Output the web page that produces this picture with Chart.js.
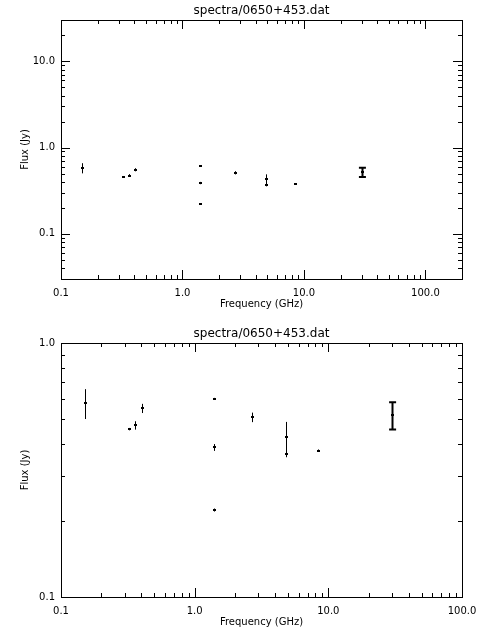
<!DOCTYPE html>
<html><head><meta charset="utf-8">
<script src="https://cdn.jsdelivr.net/npm/chart.js@4"></script>
<style>body{margin:0;background:#fff}canvas{display:block}</style>
</head><body>
<div style="width:480px;height:320px"><canvas id="c1"></canvas></div>
<div style="width:480px;height:320px"><canvas id="c2"></canvas></div>
<script>
const titleText = "spectra/0650+453.dat";
const xTitle = "Frequency (GHz)";
const yTitle = "Flux (Jy)";
const freq = [0.15, 0.323, 0.36, 0.404, 1.4, 1.4, 1.4, 2.7, 4.85, 4.85, 8.4, 30];
const flux = [0.58, 0.458, 0.474, 0.553, 0.603, 0.388, 0.22, 0.51, 0.427, 0.365, 0.377, 0.52];
const fluxErr = [0.078, 0.005, 0.018, 0.023, 0.005, 0.012, 0.003, 0.022, 0.062, 0.01, 0.004, 0.064];
const xMajor = [0.1, 1, 10, 100];
const xLabels = ["0.1", "1.0", "10.0", "100.0"];
const yMajor = [0.1, 1, 10];
const yLabels = ["0.1", "1.0", "10.0"];

function minorsBetween(lo, hi){const out=[];for(let d=Math.floor(Math.log10(lo));d<=Math.ceil(Math.log10(hi));d++){for(let k=2;k<=9;k++){const v=k*Math.pow(10,d);if(v>lo&&v<hi)out.push(v);}}return out;}

const idlPlugin = {
  id:'idl',
  afterDatasetsDraw(chart, args, o){
    const ctx=chart.ctx, a=chart.chartArea, xs=chart.scales.x, ys=chart.scales.y;
    ctx.save();
    // error bars
    chart.data.datasets[0].data.forEach((p,i)=>{
      const x=xs.getPixelForValue(p.x);
      const y1=ys.getPixelForValue(p.y-p.e), y2=ys.getPixelForValue(p.y+p.e);
      const thick = p.x>20;
      ctx.strokeStyle='#000'; ctx.lineWidth=thick?2:1;
      ctx.beginPath(); ctx.moveTo(Math.round(x)+0.5,y1); ctx.lineTo(Math.round(x)+0.5,y2); ctx.stroke();
      if(thick){ctx.beginPath();ctx.moveTo(x-3,y1);ctx.lineTo(x+4,y1);ctx.moveTo(x-3,y2);ctx.lineTo(x+4,y2);ctx.stroke();}
      ctx.fillStyle='#000'; ctx.fillRect(Math.round(x)-1, Math.round(ys.getPixelForValue(p.y))-1, 3, 2);
    });
    // frame
    ctx.lineWidth=1; ctx.strokeStyle='#000';
    ctx.strokeRect(a.left+0.5,a.top+0.5,a.right-a.left,a.bottom-a.top);
    ctx.beginPath();
    const xmin=xs.min,xmax=xs.max,ymin=ys.min,ymax=ys.max;
    const ML=o.major, mL=o.minor;
    xMajor.forEach(v=>{if(v<xmin||v>xmax)return;const x=Math.round(xs.getPixelForValue(v))+0.5;ctx.moveTo(x,a.bottom);ctx.lineTo(x,a.bottom-ML);ctx.moveTo(x,a.top);ctx.lineTo(x,a.top+ML);});
    minorsBetween(xmin,xmax).forEach(v=>{const x=Math.round(xs.getPixelForValue(v))+0.5;ctx.moveTo(x,a.bottom);ctx.lineTo(x,a.bottom-mL);ctx.moveTo(x,a.top);ctx.lineTo(x,a.top+mL);});
    yMajor.forEach(v=>{if(v<ymin||v>ymax)return;const y=Math.round(ys.getPixelForValue(v))+0.5;ctx.moveTo(a.left,y);ctx.lineTo(a.left+ML,y);ctx.moveTo(a.right,y);ctx.lineTo(a.right-ML,y);});
    minorsBetween(ymin,ymax).forEach(v=>{const y=Math.round(ys.getPixelForValue(v))+0.5;ctx.moveTo(a.left,y);ctx.lineTo(a.left+mL,y);ctx.moveTo(a.right,y);ctx.lineTo(a.right-mL,y);});
    ctx.stroke();
    // labels
    ctx.fillStyle='#000'; ctx.font='10px "DejaVu Sans"';
    ctx.textAlign='center'; ctx.textBaseline='top';
    xMajor.forEach((v,i)=>{if(v<xmin||v>xmax)return;ctx.fillText(xLabels[i],xs.getPixelForValue(v),a.bottom+9);});
    ctx.fillText(xTitle,(a.left+a.right)/2,a.bottom+20);
    ctx.textAlign='right'; ctx.textBaseline='middle';
    yMajor.forEach((v,i)=>{if(v<ymin||v>ymax)return;ctx.fillText(yLabels[i],a.left-6,ys.getPixelForValue(v));});
    ctx.save(); ctx.translate(a.left-36,(a.top+a.bottom)/2); ctx.rotate(-Math.PI/2);
    ctx.textAlign='center'; ctx.fillText(yTitle,0,0); ctx.restore();
    ctx.font='12px "DejaVu Sans"'; ctx.textAlign='center'; ctx.textBaseline='bottom';
    ctx.fillText(titleText,(a.left+a.right)/2,a.top-3);
    ctx.restore();
  }
};

function make(id, xr, yr, pad, major, minor){
  const pts=freq.map((f,i)=>({x:f,y:flux[i],e:fluxErr[i]}));
  new Chart(document.getElementById(id),{
    type:'scatter',
    data:{datasets:[{data:pts,pointRadius:0,showLine:false}]},
    options:{responsive:true,maintainAspectRatio:false,animation:false,
      layout:{padding:pad},
      plugins:{legend:{display:false},tooltip:{enabled:false},idl:{major,minor}},
      scales:{
        x:{type:'logarithmic',min:xr[0],max:xr[1],display:false},
        y:{type:'logarithmic',min:yr[0],max:yr[1],display:false}
      }},
    plugins:[idlPlugin]
  });
}
make('c1',[0.1,200],[0.03,30],{left:61,right:18,top:20,bottom:41},9,4);
make('c2',[0.1,100],[0.1,1],{left:61,right:18,top:23,bottom:43},9,4);
</script>
</body></html>
